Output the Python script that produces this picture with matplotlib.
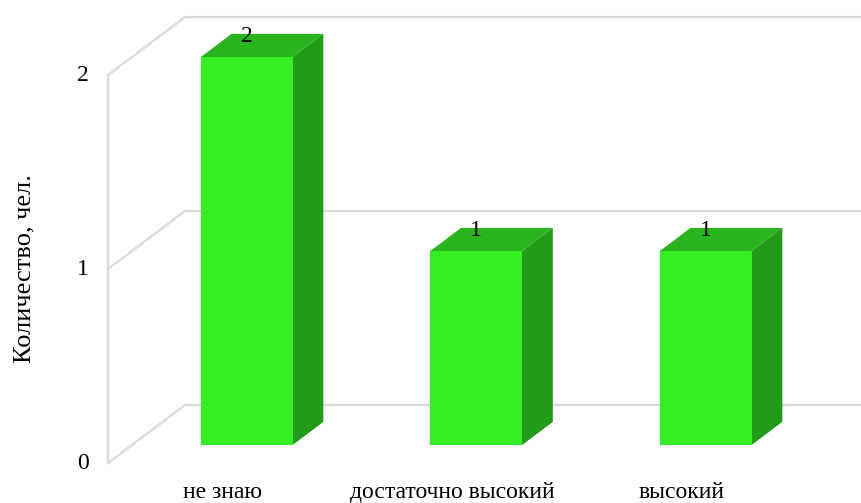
import matplotlib
matplotlib.use("Agg")
from matplotlib import pyplot as plt
from matplotlib.patches import Polygon

categories = ["не знаю", "достаточно высокий", "высокий"]
values = [2, 1, 1]
yticks = [0, 1, 2]
ylabel = "Количество, чел."

plt.rcParams["font.family"] = ["Liberation Serif", "DejaVu Serif"]

FRONT = "#33ee22"
TOP = "#2ab41e"
SIDE = "#229a1a"
GRID = "#d9d9d9"

# oblique depth vector (category units, value units) for z = 1
DX, DY = 0.3355, 0.299
Z0, Z1 = 0.31, 0.71
W = 0.4


def proj(x, y, z):
    return (x + z * DX, y + z * DY)


fig = plt.figure(figsize=(8.62, 5.03), dpi=100)
ax = fig.add_axes([0, 0, 1, 1])
ax.set_xlim(-0.9706, 2.7854)
ax.set_ylim(-0.206, 2.387)
ax.axis("off")

x_left = -0.5
x_right = 3.0
# walls: back gridlines, side gridlines, front-left edge
for v in yticks:
    p0 = proj(x_left, v, 0)
    p1 = proj(x_left, v, 1)
    p2 = proj(x_right, v, 1)
    ax.plot([p0[0], p1[0], p2[0]], [p0[1], p1[1], p2[1]], color=GRID, lw=1.6,
            solid_joinstyle="miter", zorder=1)
    ax.text(x_left - 0.085, v, str(v), ha="right", va="center", fontsize=17)
ax.plot([x_left, x_left], [0, max(yticks)], color=GRID, lw=1.6, zorder=1)

for i, v in enumerate(values):
    xl, xr = i - W / 2, i + W / 2
    front = [proj(xl, 0, Z0), proj(xr, 0, Z0), proj(xr, v, Z0), proj(xl, v, Z0)]
    side = [proj(xr, 0, Z0), proj(xr, 0, Z1), proj(xr, v, Z1), proj(xr, v, Z0)]
    top = [proj(xl, v, Z0), proj(xr, v, Z0), proj(xr, v, Z1), proj(xl, v, Z1)]
    ax.add_patch(Polygon(side, closed=True, facecolor=SIDE, edgecolor="none", zorder=2))
    ax.add_patch(Polygon(top, closed=True, facecolor=TOP, edgecolor="none", zorder=2))
    ax.add_patch(Polygon(front, closed=True, facecolor=FRONT, edgecolor="none", zorder=3))
    ax.text(proj(i, v, Z0)[0], proj(i, v, Z1)[1] - 0.015, str(v), ha="center", va="center",
            fontsize=17, zorder=4)
    ax.text(i, -0.15, categories[i], ha="center", va="center", fontsize=17)

ax.text(-0.866, 1.0, ylabel, rotation=90, ha="center", va="center", fontsize=19)

fig.savefig("out.png", dpi=100)
